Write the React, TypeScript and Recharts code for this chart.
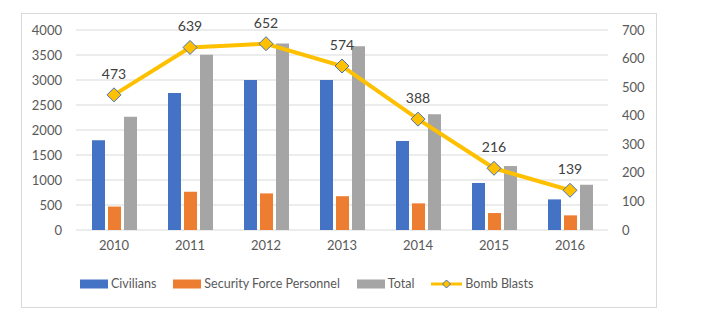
import {
  Bar,
  CartesianGrid,
  ComposedChart,
  LabelList,
  Legend,
  Line,
  XAxis,
  YAxis,
} from 'recharts'

const years = ['2010', '2011', '2012', '2013', '2014', '2015', '2016']
const civilians = [1796, 2738, 3001, 3001, 1781, 940, 612]
const securityForces = [469, 765, 732, 676, 533, 339, 293]
const totals = [2265, 3503, 3732, 3677, 2314, 1279, 905]
const bombBlasts = [473, 639, 652, 574, 388, 216, 139]
const leftTicks = [0, 500, 1000, 1500, 2000, 2500, 3000, 3500, 4000]
const rightTicks = [0, 100, 200, 300, 400, 500, 600, 700]

const data = years.map((year, i) => ({
  year,
  civilians: civilians[i],
  security: securityForces[i],
  total: totals[i],
  blasts: bombBlasts[i],
}))

const font = 'Lato, "Open Sans", sans-serif'
const textColor = '#595959'
const lineColor = '#FFC000'
const diamondEdge = '#4472C4'

const legendItems = [
  { label: 'Civilians', color: '#4472C4', kind: 'bar' },
  { label: 'Security Force Personnel', color: '#ED7D31', kind: 'bar' },
  { label: 'Total', color: '#A5A5A5', kind: 'bar' },
  { label: 'Bomb Blasts', color: lineColor, kind: 'line' },
]

function Diamond(props: any) {
  const { cx, cy } = props
  if (cx == null || cy == null) return null
  const r = 7
  return (
    <polygon
      points={`${cx},${cy - r} ${cx + r},${cy} ${cx},${cy + r} ${cx - r},${cy}`}
      fill={lineColor}
      stroke={diamondEdge}
      strokeWidth={1}
    />
  )
}

// excel-style legend, left-shifted like the original
function ChartLegend() {
  return (
    <div
      style={{
        display: 'flex',
        justifyContent: 'flex-start',
        gap: 17,
        fontFamily: font,
        fontSize: 12.5,
        color: textColor,
        paddingLeft: 72,
      }}
    >
      {legendItems.map((item) => (
        <div key={item.label} style={{ display: 'flex', alignItems: 'center', gap: 3 }}>
          {item.kind === 'bar' ? (
            <svg width={28} height={10}>
              <rect x={0} y={0.5} width={28} height={9} fill={item.color} />
            </svg>
          ) : (
            <svg width={31} height={12}>
              <line x1={0} y1={6} x2={31} y2={6} stroke={lineColor} strokeWidth={3} />
              <polygon points='15.5,2 19.5,6 15.5,10 11.5,6' fill={lineColor} stroke={diamondEdge} strokeWidth={1} />
            </svg>
          )}
          <span>{item.label}</span>
        </div>
      ))}
    </div>
  )
}

export default function App() {
  return (
    <div style={{ position: 'relative', width: 701, height: 326 }}>
      <div
        style={{
          position: 'absolute',
          left: 13,
          top: 5,
          width: 634,
          height: 293,
          border: '1px solid #d9d9d9',
        }}
      />
      <div style={{ position: 'absolute', left: 0, top: 0 }}>
        <ComposedChart
          width={701}
          height={326}
          data={data}
          margin={{ top: 22, right: 0, bottom: 40, left: 0 }}
          barGap={3}
          barSize={13}
        >
          <CartesianGrid yAxisId='left' vertical={false} stroke='#d9d9d9' />
          <XAxis
            dataKey='year'
            tickLine={false}
            axisLine={false}
            tickMargin={5}
            height={30}
            tick={{ fill: textColor, fontSize: 13, fontFamily: font }}
          />
          <YAxis
            yAxisId='left'
            domain={[0, 4000]}
            ticks={leftTicks}
            width={68}
            tickLine={false}
            axisLine={false}
            tickMargin={8}
            tick={{ fill: textColor, fontSize: 13, fontFamily: font }}
          />
          <YAxis
            yAxisId='right'
            orientation='right'
            domain={[0, 700]}
            ticks={rightTicks}
            width={101}
            tickLine={false}
            axisLine={false}
            tickMargin={8}
            tick={{ fill: textColor, fontSize: 13, fontFamily: font, textAnchor: 'start' }}
          />
          <Legend
            height={34}
            verticalAlign='bottom'
            wrapperStyle={{ left: 0, width: 701, bottom: 24 }}
            content={<ChartLegend />}
          />
          <Bar yAxisId='left' dataKey='civilians' name='Civilians' fill='#4472C4' isAnimationActive={false} />
          <Bar yAxisId='left' dataKey='security' name='Security Force Personnel' fill='#ED7D31' isAnimationActive={false} />
          <Bar yAxisId='left' dataKey='total' name='Total' fill='#A5A5A5' isAnimationActive={false} />
          <Line
            yAxisId='right'
            dataKey='blasts'
            name='Bomb Blasts'
            stroke={lineColor}
            strokeWidth={4}
            dot={<Diamond />}
            activeDot={false}
            isAnimationActive={false}
          >
            <LabelList
              dataKey='blasts'
              position='top'
              offset={16}
              fill='#404040'
              fontSize={14}
              fontFamily={font}
            />
          </Line>
        </ComposedChart>
      </div>
    </div>
  )
}
